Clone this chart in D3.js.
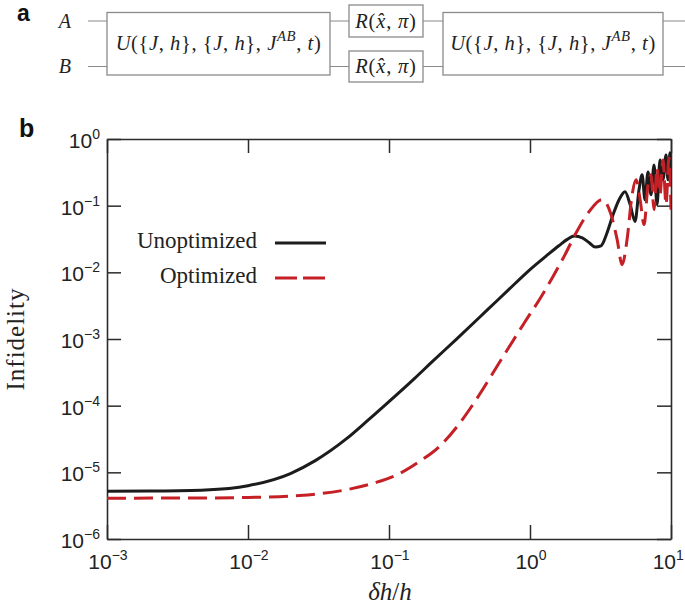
<!DOCTYPE html>
<html>
<head>
<meta charset="utf-8">
<script src="https://cdn.jsdelivr.net/npm/d3@7"></script>
<style>
  html, body { margin: 0; padding: 0; background: #fff; }
  svg { display: block; }
</style>
</head>
<body>
<svg id="chart" width="685" height="615"></svg>
<script>
// ---------------- data ----------------
const seriesNames = ["Unoptimized", "Optimized"];

const unoptDelta = [0.001, 0.002, 0.005, 0.01, 0.02, 0.03, 0.05, 0.07, 0.1, 0.15, 0.2, 0.3, 0.5, 0.7, 1.0, 1.3, 1.6, 1.85, 2.06, 2.35, 2.62, 2.9, 3.19, 3.5, 3.88, 4.3, 4.72, 5.13, 5.56, 5.93, 6.24, 6.54, 6.87, 7.21, 7.58, 7.96, 8.36, 8.77, 9.22, 9.52, 9.84, 10];
const unoptInfid = [5.2e-6, 5.25e-6, 5.45e-6, 6.3e-6, 9.6e-6, 1.5e-5, 3.2e-5, 5.9e-5, 1.15e-4, 2.5e-4, 4.45e-4, 9.9e-4, 2.75e-3, 5.4e-3, 1.1e-2, 1.75e-2, 2.5e-2, 3.15e-2, 3.5e-2, 3.3e-2, 2.8e-2, 2.4e-2, 2.5e-2, 3.8e-2, 7.3e-2, 1.25e-1, 1.62e-1, 1.04e-1, 5.8e-2, 1.73e-1, 2.9e-1, 1.23e-1, 3.21e-1, 1.46e-1, 4.09e-1, 1.04e-1, 4.86e-1, 2.44e-1, 5.77e-1, 2.44e-1, 6.2e-1, 3.0e-1];

const optDelta = [0.001, 0.005, 0.01, 0.0232, 0.0525, 0.08, 0.119, 0.164, 0.228, 0.316, 0.416, 0.605, 0.91, 1.2, 1.44, 1.75, 2.12, 2.62, 3.24, 3.76, 4.15, 4.5, 4.88, 5.3, 5.65, 6.04, 6.44, 6.87, 7.21, 7.58, 7.96, 8.36, 8.77, 9.22, 9.68, 10];
const optInfid = [4.1e-6, 4.12e-6, 4.2e-6, 4.5e-6, 5.6e-6, 7.0e-6, 9.6e-6, 1.45e-5, 2.45e-5, 5.4e-5, 1.24e-4, 4.4e-4, 1.74e-3, 4.3e-3, 8.3e-3, 1.75e-2, 0.039, 0.081, 0.123, 0.073, 0.031, 0.013, 0.031, 0.146, 0.244, 0.123, 0.052, 0.206, 0.29, 0.087, 0.369, 0.146, 0.486, 0.104, 0.52, 0.087];

const xTickExps = [-3, -2, -1, 0, 1];
const yTickExps = [0, -1, -2, -3, -4, -5, -6];

// ---------------- layout ----------------
const svg = d3.select("#chart");
const L = 107, R = 671, T = 139, B = 539;
const x = d3.scaleLog().domain([1e-3, 1e1]).range([L, R]);
const y = d3.scaleLog().domain([1e-6, 1e0]).range([B, T]);

const sansFont = "'Liberation Sans', Arial, Helvetica, sans-serif";
const serifFont = "'Liberation Serif', 'Times New Roman', serif";
const axisColor = "#2b2b2b";
const black = "#1c1c1c";
const red = "#c42026";

// ---------------- panel a: circuit ----------------
const gA = svg.append("g");
const wireColor = "#8a8a8a";
[21, 66.5].forEach(yy => {
  gA.append("line").attr("x1", 88).attr("x2", 685).attr("y1", yy).attr("y2", yy)
    .attr("stroke", wireColor).attr("stroke-width", 1.2);
});
const boxes = [
  {x0: 107, x1: 330, y0: 12.5, y1: 75},
  {x0: 349, x1: 423, y0: 5, y1: 37},
  {x0: 349, x1: 423, y0: 51, y1: 82},
  {x0: 443, x1: 663, y0: 12.5, y1: 75}
];
boxes.forEach(b => {
  gA.append("rect").attr("x", b.x0).attr("y", b.y0).attr("width", b.x1 - b.x0).attr("height", b.y1 - b.y0)
    .attr("fill", "#fff").attr("stroke", "#8a8a8a").attr("stroke-width", 1.3);
});

function mathText(g, cx, by, parts, size, spacing) {
  const t = g.append("text").attr("x", cx).attr("y", by).attr("text-anchor", "middle")
    .attr("font-family", serifFont).attr("font-size", size).attr("fill", "#222")
    .attr("letter-spacing", spacing);
  parts.forEach(p => {
    const ts = t.append("tspan").text(p.t);
    if (p.i) ts.attr("font-style", "italic");
    if (p.sup) ts.attr("font-size", size * 0.72).attr("dy", -size * 0.42);
    if (p.down) ts.attr("dy", size * 0.42);
  });
  return t;
}
const uParts = [
  {t: "U", i: 1}, {t: "({"}, {t: "J", i: 1}, {t: ", "}, {t: "h", i: 1}, {t: "}, {"},
  {t: "J", i: 1}, {t: ", "}, {t: "h", i: 1}, {t: "}, "}, {t: "J", i: 1},
  {t: "AB", i: 1, sup: 1}, {t: ", ", down: 1}, {t: "t", i: 1}, {t: ")"}
];
mathText(gA, 218.5, 50, uParts, 20.5, 0.6);
mathText(gA, 553, 50, uParts, 20.5, 0.6);
const rParts = [{t: "R", i: 1}, {t: "("}, {t: "x\u0302", i: 1}, {t: ", "}, {t: "\u03C0", i: 1}, {t: ")"}];
mathText(gA, 386, 27.5, rParts, 20.5, 0.8);
mathText(gA, 386, 72.5, rParts, 20.5, 0.8);

gA.append("text").attr("x", 71).attr("y", 28).attr("text-anchor", "end")
  .attr("font-family", serifFont).attr("font-style", "italic").attr("font-size", 20).attr("fill", "#222").text("A");
gA.append("text").attr("x", 71).attr("y", 73).attr("text-anchor", "end")
  .attr("font-family", serifFont).attr("font-style", "italic").attr("font-size", 20).attr("fill", "#222").text("B");

svg.append("text").attr("x", 17).attr("y", 21).attr("font-family", sansFont).attr("font-weight", "bold")
  .attr("font-size", 23).attr("fill", "#111").text("a");
svg.append("text").attr("x", 19).attr("y", 137).attr("font-family", sansFont).attr("font-weight", "bold")
  .attr("font-size", 25).attr("fill", "#111").text("b");

// ---------------- panel b: plot ----------------
const xTicks = xTickExps.map(e => Math.pow(10, e));
const yTicks = yTickExps.map(e => Math.pow(10, e));
const tickLen = 14;

function styleAxis(g) {
  g.selectAll("path.domain").attr("stroke", axisColor).attr("stroke-width", 1.6);
  g.selectAll(".tick line").attr("stroke", axisColor).attr("stroke-width", 1.5);
  g.selectAll(".tick text").remove();
}
svg.append("g").attr("transform", `translate(0,${B})`)
  .call(d3.axisBottom(x).tickValues(xTicks).tickSize(-tickLen).tickSizeOuter(0).tickFormat("")).call(styleAxis);
svg.append("g").attr("transform", `translate(0,${T})`)
  .call(d3.axisTop(x).tickValues(xTicks).tickSize(-tickLen).tickSizeOuter(0).tickFormat("")).call(styleAxis);
svg.append("g").attr("transform", `translate(${L},0)`)
  .call(d3.axisLeft(y).tickValues(yTicks).tickSize(-tickLen).tickSizeOuter(0).tickFormat("")).call(styleAxis);
svg.append("g").attr("transform", `translate(${R},0)`)
  .call(d3.axisRight(y).tickValues(yTicks).tickSize(-tickLen).tickSizeOuter(0).tickFormat("")).call(styleAxis);

function powLabel(g, px, py, exp, anchor) {
  const t = g.append("text").attr("x", px).attr("y", py).attr("text-anchor", anchor)
    .attr("font-family", sansFont).attr("font-size", 21).attr("fill", "#222");
  t.append("tspan").text("10");
  t.append("tspan").attr("dy", -9).attr("font-size", 14)
    .text(exp < 0 ? "\u2212" + Math.abs(exp) : String(exp));
  return t;
}
const gLab = svg.append("g");
xTickExps.forEach(e => {
  const t = powLabel(gLab, x(Math.pow(10, e)) + 1, 569, e, "middle");
  const bb = t.node().getBBox();
  if (bb.x + bb.width > 684) t.attr("x", +t.attr("x") - (bb.x + bb.width - 684));
});
yTickExps.forEach(e => powLabel(gLab, 100, y(Math.pow(10, e)) + 9, e, "end"));

// axis titles
svg.append("text").attr("transform", `translate(24,339) rotate(-90)`).attr("text-anchor", "middle")
  .attr("font-family", serifFont).attr("font-size", 25).attr("letter-spacing", 1).attr("fill", "#222").text("Infidelity");
const xt = svg.append("text").attr("x", 390).attr("y", 600).attr("text-anchor", "middle")
  .attr("font-family", serifFont).attr("font-size", 25).attr("fill", "#222");
xt.append("tspan").attr("font-style", "italic").text("\u03B4h");
xt.append("tspan").text("/");
xt.append("tspan").attr("font-style", "italic").text("h");

// curves
svg.append("defs").append("clipPath").attr("id", "plotclip")
  .append("rect").attr("x", L).attr("y", T).attr("width", R - L).attr("height", B - T);

const line = d3.line().x(d => x(d[0])).y(d => y(d[1])).curve(d3.curveMonotoneX);
const unoptData = unoptDelta.map((d, i) => [d, unoptInfid[i]]);
const optData = optDelta.map((d, i) => [d, optInfid[i]]);

const gC = svg.append("g").attr("clip-path", "url(#plotclip)");
gC.append("path").datum(unoptData).attr("d", line).attr("fill", "none")
  .attr("stroke", black).attr("stroke-width", 3).attr("stroke-linejoin", "round");
gC.append("path").datum(optData).attr("d", line).attr("fill", "none")
  .attr("stroke", red).attr("stroke-width", 3).attr("stroke-dasharray", "19,8");

// legend
const legend = svg.append("g");
const legY = [243, 278];
seriesNames.forEach((name, i) => {
  legend.append("text").attr("x", 257).attr("y", legY[i] + 5).attr("text-anchor", "end")
    .attr("font-family", serifFont).attr("font-size", 23).attr("fill", "#222").text(name);
  const ln = legend.append("line").attr("x1", 275).attr("x2", 326).attr("y1", legY[i]).attr("y2", legY[i])
    .attr("stroke", i === 0 ? black : red).attr("stroke-width", 3);
  if (i === 1) ln.attr("stroke-dasharray", "22,6");
});
</script>
</body>
</html>
